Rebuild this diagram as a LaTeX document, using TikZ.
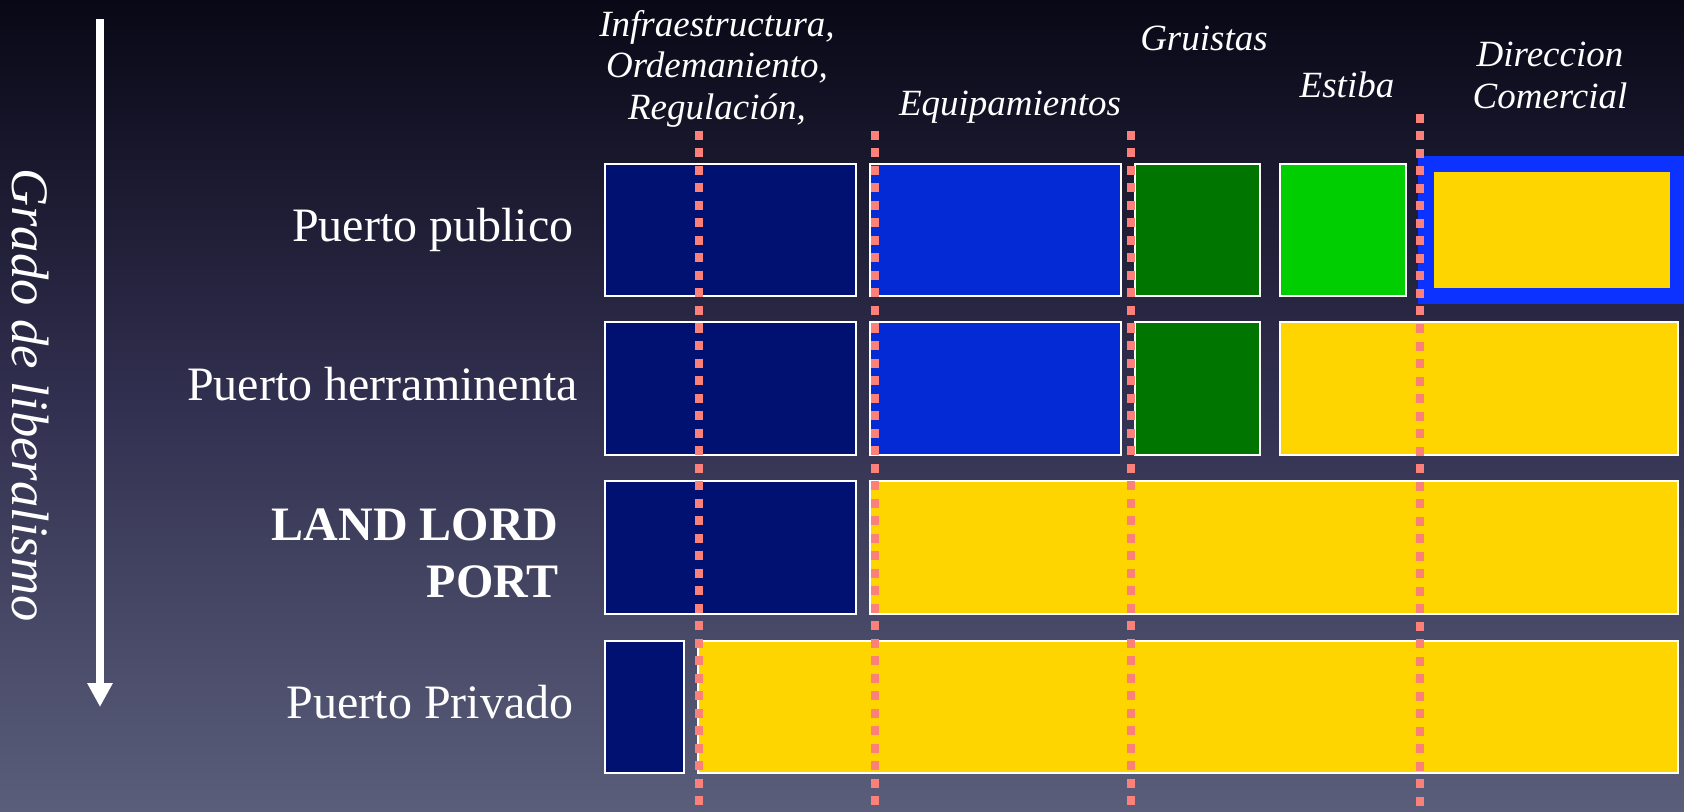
\documentclass[tikz,border=0pt]{standalone}
\usepackage{fontspec}
\setmainfont{Liberation Serif}
\usetikzlibrary{positioning,arrows.meta}

\definecolor{bgtop}{RGB}{8,8,22}
\definecolor{bgmid}{RGB}{50,48,80}
\definecolor{bgbot}{RGB}{90,94,122}
\definecolor{navybox}{RGB}{0,17,114}
\definecolor{bluebox}{RGB}{4,42,214}
\definecolor{darkgreen}{RGB}{0,117,0}
\definecolor{lightgreen}{RGB}{0,206,0}
\definecolor{goldbox}{RGB}{255,213,0}
\definecolor{frameblue}{RGB}{12,50,255}
\definecolor{salmon}{RGB}{252,128,122}

\tikzset{
  cell/.style={draw=white, line width=1pt},
  rowlabel/.style={text=white, font=\fontsize{24}{28.5}\selectfont, anchor=base east, align=right, inner sep=0pt},
  colhead/.style={text=white, font=\fontsize{18.5}{20.7}\selectfont\itshape, align=center, inner sep=0pt},
  divider/.style={salmon, line width=4.25pt, dash pattern=on 4.5pt off 4.25pt},
}

\begin{document}
\begin{tikzpicture}[x=0.5pt,y=-0.5pt]
  % background
  \shade[top color=bgtop, bottom color=bgbot, middle color=bgmid] (0,0) rectangle (1684,812);
  \useasboundingbox (0,0) rectangle (1684,812);

  % axis arrow and its label
  \coordinate (axistop) at (100,19);
  \coordinate (axisend) at (100,707);
  \draw[white, line width=3.8pt, -{Triangle[length=12pt,width=12pt]}] (axistop) -- (axisend);
  \node[text=white, font=\fontsize{26.3}{30}\selectfont\itshape, rotate=-90] (grado) at (30,395) {Grado de liberalismo};

  % row labels
  \node[rowlabel] (publico) at (574,242) {Puerto publico};
  \node[rowlabel] (herram) at (578,400) {Puerto herraminenta};
  \node[rowlabel, font=\fontsize{24}{28.5}\selectfont\bfseries] (landlord) at (559,540) {LAND LORD};
  \node[rowlabel, font=\fontsize{24}{28.5}\selectfont\bfseries] (port) at (559,597) {PORT};
  \node[rowlabel] (privado) at (574,718) {Puerto Privado};

  % column headers
  \node[colhead, anchor=north] (infra) at (717,10) {Infraestructura,\\Ordemaniento,\\Regulación,};
  \node[colhead, anchor=base] (equip) at (1010,116) {Equipamientos};
  \node[colhead, anchor=base] (gruistas) at (1204,51) {Gruistas};
  \node[colhead, anchor=base] (estiba) at (1347,98) {Estiba};
  \node[colhead, anchor=north] (direccion) at (1550,42) {Direccion\\Comercial};

  % Puerto publico
  \filldraw[cell, fill=navybox] (605,164) rectangle (856,296);
  \filldraw[cell, fill=bluebox] (870,164) rectangle (1121,296);
  \filldraw[cell, fill=darkgreen] (1135,164) rectangle (1260,296);
  \filldraw[cell, fill=lightgreen] (1280,164) rectangle (1406,296);
  \fill[frameblue] (1418,156) rectangle (1684,304);
  \fill[goldbox] (1434,172) rectangle (1670,288);

  % Puerto herraminenta
  \filldraw[cell, fill=navybox] (605,322) rectangle (856,455);
  \filldraw[cell, fill=bluebox] (870,322) rectangle (1121,455);
  \filldraw[cell, fill=darkgreen] (1135,322) rectangle (1260,455);
  \filldraw[cell, fill=goldbox] (1280,322) rectangle (1678,455);

  % Land lord port
  \filldraw[cell, fill=navybox] (605,481) rectangle (856,614);
  \filldraw[cell, fill=goldbox] (870,481) rectangle (1678,614);

  % Puerto Privado
  \filldraw[cell, fill=navybox] (605,641) rectangle (684,773);
  \filldraw[cell, fill=goldbox] (698,641) rectangle (1678,773);

  % dotted dividers
  \foreach \x/\y in {699/131, 875/131, 1131/131, 1420/114}
    \draw[divider] (\x,\y) -- (\x,812);
\end{tikzpicture}
\end{document}
